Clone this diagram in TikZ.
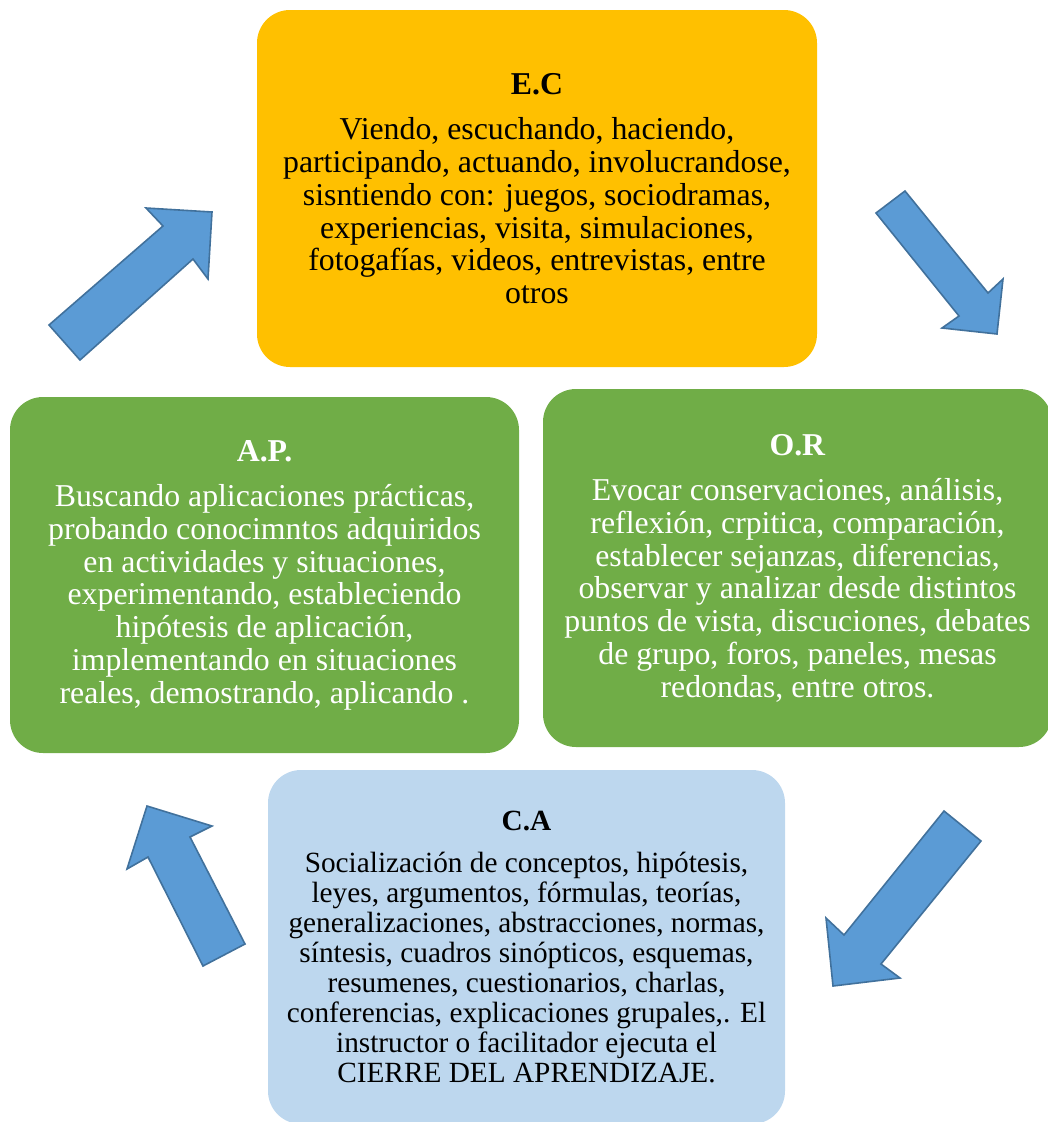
\documentclass[tikz,border=0pt]{standalone}
\usepackage{fontspec}
\setmainfont{Liberation Serif}
\definecolor{ecorange}{HTML}{FFC000}
\definecolor{apgreen}{HTML}{70AD47}
\definecolor{calblue}{HTML}{BDD7EE}
\definecolor{arrfill}{HTML}{5B9BD5}
\definecolor{arrline}{HTML}{41719C}
\begin{document}
\begin{tikzpicture}[x=1pt,y=-1pt,
  card/.style={rounded corners=33pt, inner sep=0pt, align=center, draw=none},
  bodyfont/.style={font=\fontsize{31.8}{32.7}\selectfont},
  smallfont/.style={font=\fontsize{29.3}{30}\selectfont},
  blockarrow/.style={fill=arrfill, draw=arrline, line width=1.6pt, line join=miter}]
\useasboundingbox (0,0) rectangle (1048,1122);
\node[card, bodyfont, fill=ecorange, text=black, minimum width=560pt, minimum height=357pt] (ec) at (537,188.5)
 {\textbf{E.C}\\[13pt]
  Viendo, escuchando, haciendo,\\
  participando, actuando, involucrandose,\\
  sisntiendo con: juegos, sociodramas,\\
  experiencias, visita, simulaciones,\\
  fotogafías, videos, entrevistas, entre\\
  otros};
\node[card, bodyfont, fill=apgreen, text=white, minimum width=509pt, minimum height=358pt] (or) at (797.5,568)
 {\textbf{O.R}\\[13pt]
  Evocar conservaciones, análisis,\\
  reflexión, crpitica, comparación,\\
  establecer sejanzas, diferencias,\\
  observar y analizar desde distintos\\
  puntos de vista, discuciones, debates\\
  de grupo, foros, paneles, mesas\\
  redondas, entre otros.};
\node[card, bodyfont, fill=apgreen, text=white, minimum width=509pt, minimum height=356pt] (ap) at (264.5,575)
 {\textbf{A.P.}\\[13pt]
  Buscando aplicaciones prácticas,\\
  probando conocimntos adquiridos\\
  en actividades y situaciones,\\
  experimentando, estableciendo\\
  hipótesis de aplicación,\\
  implementando en situaciones\\
  reales, demostrando, aplicando .};
\node[card, smallfont, fill=calblue, text=black, minimum width=517pt, minimum height=354pt] (ca) at (526.5,947)
 {\textbf{C.A}\\[12pt]
  Socialización de conceptos, hipótesis,\\
  leyes, argumentos, fórmulas, teorías,\\
  generalizaciones, abstracciones, normas,\\
  síntesis, cuadros sinópticos, esquemas,\\
  resumenes, cuestionarios, charlas,\\
  conferencias, explicaciones grupales,. El\\
  instructor o facilitador ejecuta el\\
  CIERRE DEL APRENDIZAJE.};
% block arrows
\draw[blockarrow] (49,325) -- (163,226) -- (146,208) -- (212,212) -- (208,279) -- (193,259) -- (80,360) -- cycle;
\draw[blockarrow] (876,213) -- (905,191) -- (988,293) -- (1003,279) -- (997,334) -- (942,328) -- (959,316) -- cycle;
\draw[blockarrow] (944,811) -- (981,841) -- (881,964) -- (900,978) -- (833,986) -- (826,918) -- (844,935) -- cycle;
\draw[blockarrow] (203,966) -- (245,944) -- (190,837) -- (212,826) -- (147,806) -- (127,869) -- (148,857) -- cycle;
\end{tikzpicture}
\end{document}
